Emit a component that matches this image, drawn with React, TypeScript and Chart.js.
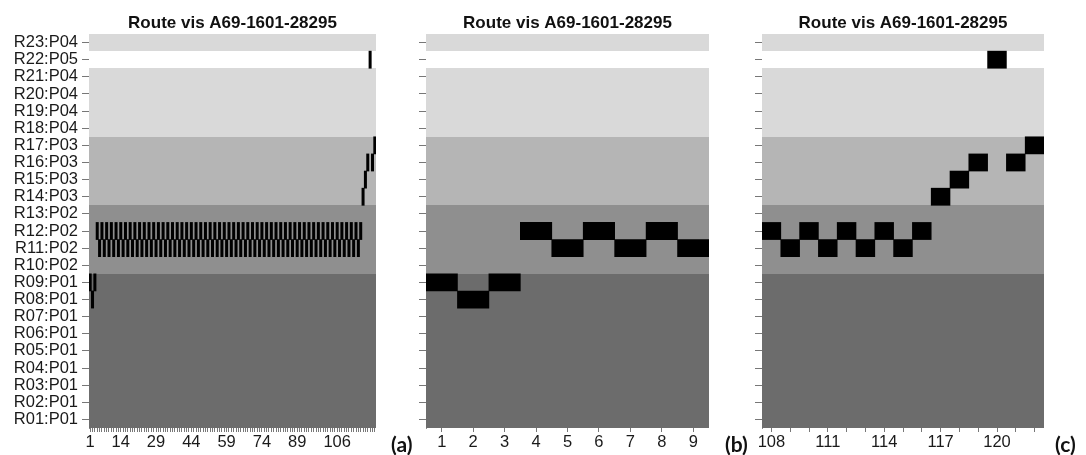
import React, { useEffect, useRef } from 'react';
import { Chart, registerables } from 'chart.js';

Chart.register(...registerables);

const routeTitle = 'Route vis A69-1601-28295';

// Receivers from bottom (R01) to top (R23)
const receiverNames = [
  'R01', 'R02', 'R03', 'R04', 'R05', 'R06', 'R07', 'R08', 'R09', 'R10', 'R11', 'R12',
  'R13', 'R14', 'R15', 'R16', 'R17', 'R18', 'R19', 'R20', 'R21', 'R22', 'R23',
];

// Pool each receiver belongs to (same order as receiverNames)
const receiverPools = [
  'P01', 'P01', 'P01', 'P01', 'P01', 'P01', 'P01', 'P01', 'P01',
  'P02', 'P02', 'P02', 'P02',
  'P03', 'P03', 'P03', 'P03',
  'P04', 'P04', 'P04', 'P04',
  'P05',
  'P04',
];

const poolColors: Record<string, string> = {
  P01: '#6c6c6c',
  P02: '#8f8f8f',
  P03: '#b5b5b5',
  P04: '#d9d9d9',
  P05: '#ffffff',
};

// Receiver row (1 = R01 ... 23 = R23) of each successive detection, 1..122
const detectionRows = [
  9, 8, 9,
  12, 11, 12, 11, 12, 11, 12, 11, 12, 11,
  12, 11, 12, 11, 12, 11, 12, 11, 12, 11,
  12, 11, 12, 11, 12, 11, 12, 11, 12, 11,
  12, 11, 12, 11, 12, 11, 12, 11, 12, 11,
  12, 11, 12, 11, 12, 11, 12, 11, 12, 11,
  12, 11, 12, 11, 12, 11, 12, 11, 12, 11,
  12, 11, 12, 11, 12, 11, 12, 11, 12, 11,
  12, 11, 12, 11, 12, 11, 12, 11, 12, 11,
  12, 11, 12, 11, 12, 11, 12, 11, 12, 11,
  12, 11, 12, 11, 12, 11, 12, 11, 12, 11,
  12, 11, 12, 11, 12, 11, 12, 11, 12, 11,
  12, 11, 12,
  14, 15, 16, 22, 16, 17,
];

// Detection windows shown in each panel, and the index labels printed under each
const panelARange = [1, 122];
const panelBRange = [1, 9];
const panelCRange = [108, 122];
const panelATickLabels = [1, 14, 29, 44, 59, 74, 89, 106];
const panelBTickLabels = [1, 2, 3, 4, 5, 6, 7, 8, 9];
const panelCTickLabels = [108, 111, 114, 117, 120];

const FONT = '"Liberation Sans", Arial, sans-serif';
const PAGE_H = 455;

type PanelProps = {
  left: number;
  width: number;
  axisWidth: number;
  rightPad: number;
  showYLabels: boolean;
  range: number[];
  tickLabels: number[];
};

// Shade the plot by pool, one rectangle per run of receivers in the same pool
const poolBands = {
  id: 'poolBands',
  beforeDatasetsDraw(chart: any) {
    const { ctx, chartArea, scales } = chart;
    const y = scales.y;
    ctx.save();
    let start = 0;
    for (let i = 1; i <= receiverPools.length; i++) {
      if (i === receiverPools.length || receiverPools[i] !== receiverPools[start]) {
        const top = Math.round(y.getPixelForValue(i + 0.5));
        const bottom = Math.round(y.getPixelForValue(start + 0.5));
        ctx.fillStyle = poolColors[receiverPools[start]];
        ctx.fillRect(chartArea.left, top, chartArea.right - chartArea.left, bottom - top);
        start = i;
      }
    }
    ctx.restore();
  },
};

const panelTitle = {
  id: 'panelTitle',
  afterDraw(chart: any) {
    const { ctx, chartArea } = chart;
    ctx.save();
    ctx.font = `bold 17px ${FONT}`;
    ctx.fillStyle = '#111';
    ctx.textAlign = 'center';
    ctx.textBaseline = 'alphabetic';
    ctx.fillText(routeTitle, (chartArea.left + chartArea.right) / 2, 28);
    ctx.restore();
  },
};

function RoutePanel(props: PanelProps) {
  const ref = useRef<HTMLCanvasElement | null>(null);

  useEffect(() => {
    if (!ref.current) return;
    const positions: number[] = [];
    for (let p = props.range[0]; p <= props.range[1]; p++) positions.push(p);
    const cells = positions.map((p) => {
      const r = detectionRows[p - 1];
      return [r - 0.5, r + 0.5];
    });

    const chart = new Chart(ref.current, {
      type: 'bar',
      data: {
        labels: positions.map(String),
        datasets: [
          {
            data: cells as any,
            backgroundColor: '#000000',
            borderWidth: 0,
            barPercentage: 1,
            categoryPercentage: 1,
            grouped: false,
          },
        ],
      },
      options: {
        responsive: false,
        animation: false,
        events: [],
        layout: { padding: { top: 34, right: props.rightPad, left: 0, bottom: 0 } },
        plugins: {
          legend: { display: false },
          tooltip: { enabled: false },
          title: { display: false },
        },
        scales: {
          x: {
            type: 'category',
            offset: true,
            grid: {
              offset: false,
              drawOnChartArea: false,
              drawTicks: true,
              tickLength: 4,
              color: '#777777',
            },
            border: { display: false },
            ticks: {
              autoSkip: false,
              maxRotation: 0,
              minRotation: 0,
              padding: 1,
              color: '#1a1a1a',
              font: { family: FONT, size: 16.5, lineHeight: 1.2 },
              callback: (_v: any, index: number) => {
                const p = positions[index];
                return props.tickLabels.includes(p) ? String(p) : '';
              },
            },
            afterFit: (s: any) => {
              s.height = 27;
            },
          },
          y: {
            type: 'linear',
            min: 0.5,
            max: 23.5,
            afterBuildTicks: (s: any) => {
              s.ticks = receiverNames.map((_n, i) => ({ value: i + 1 }));
            },
            grid: {
              drawOnChartArea: false,
              drawTicks: true,
              tickLength: 7,
              color: '#777777',
            },
            border: { display: true, color: '#8a8a8a', width: 1 },
            ticks: {
              autoSkip: false,
              padding: 4,
              color: '#1a1a1a',
              font: { family: FONT, size: 16.5, lineHeight: 1 },
              callback: (v: any) => {
                const i = Number(v) - 1;
                return props.showYLabels ? `${receiverNames[i]}:${receiverPools[i]}` : '';
              },
            },
            afterFit: (s: any) => {
              s.width = props.axisWidth;
            },
          },
        },
      } as any,
      plugins: [poolBands, panelTitle],
    });
    return () => chart.destroy();
  }, []);

  return (
    <canvas
      ref={ref}
      width={props.width}
      height={PAGE_H}
      style={{ position: 'absolute', left: props.left, top: 0, width: props.width, height: PAGE_H }}
    />
  );
}

const tagStyle: React.CSSProperties = {
  position: 'absolute',
  top: 433,
  fontFamily: 'Lato, "Open Sans", sans-serif',
  fontWeight: 700,
  fontSize: 21,
  lineHeight: '22px',
  color: '#111',
};

export default function App() {
  return (
    <div
      style={{
        position: 'fixed',
        left: 0,
        top: 0,
        width: 1086,
        height: PAGE_H,
        background: '#ffffff',
        overflow: 'hidden',
      }}
    >
      <RoutePanel left={0} width={385} axisWidth={89} rightPad={9} showYLabels range={panelARange} tickLabels={panelATickLabels} />
      <RoutePanel left={385} width={340} axisWidth={41} rightPad={16} showYLabels={false} range={panelBRange} tickLabels={panelBTickLabels} />
      <RoutePanel left={725} width={361} axisWidth={37} rightPad={42} showYLabels={false} range={panelCRange} tickLabels={panelCTickLabels} />
      <div style={{ ...tagStyle, left: 391 }}>(a)</div>
      <div style={{ ...tagStyle, left: 725 }}>(b)</div>
      <div style={{ ...tagStyle, left: 1055 }}>(c)</div>
    </div>
  );
}
